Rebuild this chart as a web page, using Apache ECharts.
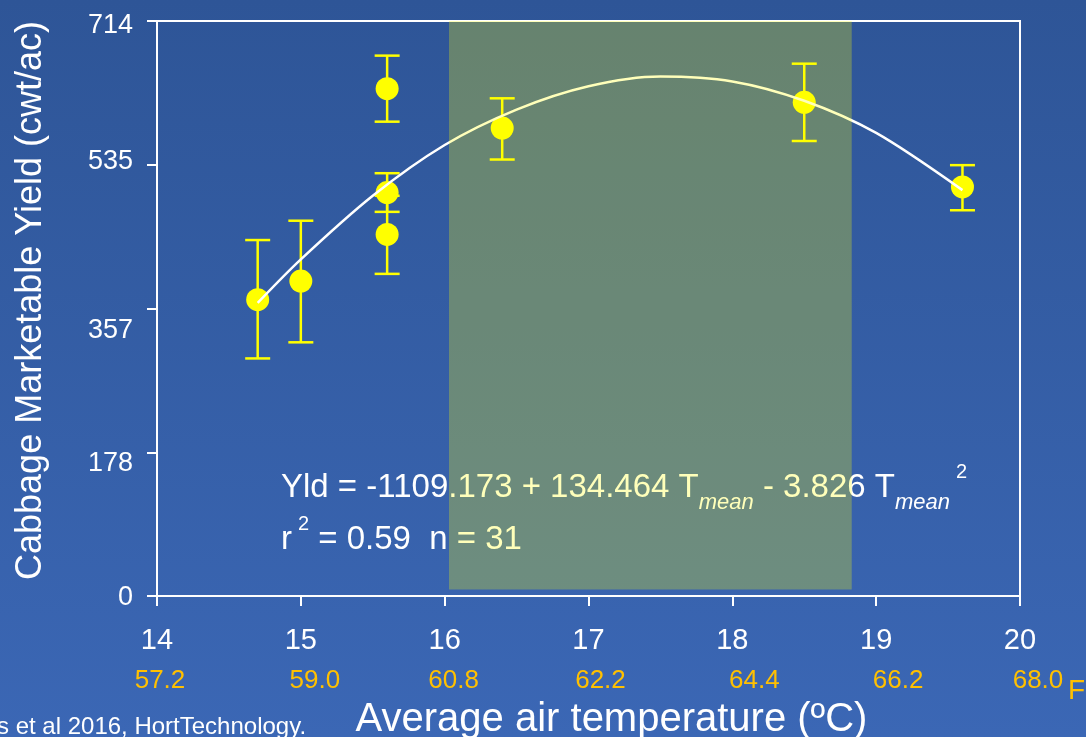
<!DOCTYPE html>
<html lang="en">
<head>
  <meta charset="UTF-8">
  <title>Cabbage yield vs temperature</title>
  <script src="https://cdn.jsdelivr.net/npm/echarts@6/dist/echarts.min.js"></script>
  <style>
    html, body { margin: 0; padding: 0; }
  </style>
</head>
<body>
<div id="main" style="width:1086px;height:737px"></div>
<script>
  // axis ticks
  var xTicks = [14, 15, 16, 17, 18, 19, 20];
  var fahrLabels = ['57.2', '59.0', '60.8', '62.2', '64.4', '66.2', '68.0'];
  var yTicks = [0, 178, 357, 535, 714];

  // observed means with error bars
  var temps = [14.7, 15.0, 15.6, 15.6, 15.6, 16.4, 18.5, 19.6];
  var yields = [368, 391, 630, 501, 449, 581, 613, 508];
  var errLow = [295, 315, 589, 477, 400, 542, 565, 479];
  var errHigh = [442, 466, 671, 525, 497, 618, 661, 535];

  // fitted curve
  var fitT = [14.7, 15.0, 15.5, 16.0, 16.5, 17.0, 17.5, 18.0, 18.5, 19.0, 19.6];
  var fitYield = [364, 418, 497, 560, 604, 633, 645, 639, 615, 575, 504];

  // optimum band
  var bandT = [16.03, 18.83];
  var bandY = [8, 714];

  var font = 'Liberation Sans, Arial, sans-serif';
  var chart = echarts.init(document.querySelector('#main'));

  var pts = temps.map(function (t, i) { return [t, yields[i]]; });
  var bars = temps.map(function (t, i) { return [t, errLow[i], errHigh[i]]; });
  var fit = fitT.map(function (t, i) { return [t, fitYield[i]]; });

  // the slide's labels sit a little off their ticks
  var yShift = [2, 11, 22, -3, 5];
  var fShift = [3, 14, 9, 12, 22, 22, 18];
  var yRich = {}, xRich = { c: { color: '#fff', fontSize: 29, lineHeight: 38, fontFamily: font } };
  yShift.forEach(function (d, i) {
    yRich['y' + i] = {
      color: '#fff', fontSize: 27, fontFamily: font,
      padding: d > 0 ? [2 * d, 0, 0, 0] : [0, 0, -2 * d, 0]
    };
  });
  fShift.forEach(function (d, i) {
    xRich['f' + i] = { color: '#FFC000', fontSize: 26, lineHeight: 42, fontFamily: font, padding: [0, 0, 0, 2 * d] };
  });

  chart.setOption({
    animation: false,
    backgroundColor: new echarts.graphic.LinearGradient(0, 0, 0, 1, [
      { offset: 0, color: '#2E5597' },
      { offset: 1, color: '#3B67B5' }
    ]),
    textStyle: { fontFamily: font },
    grid: {
      left: 157, right: 66, top: 21, bottom: 141,
      outerBoundsMode: 'none', containLabel: false,
      show: true, borderColor: '#fff', borderWidth: 2, backgroundColor: 'transparent'
    },
    xAxis: {
      type: 'value', min: 14, max: 20, interval: 1,
      name: 'Average air temperature (ºC)',
      nameLocation: 'middle', nameGap: 90,
      nameTextStyle: { color: '#fff', fontSize: 40, lineHeight: 42, padding: [0, 0, 0, 46], fontFamily: font },
      axisLine: { lineStyle: { color: '#fff', width: 2 } },
      axisTick: { show: true, length: 10, lineStyle: { color: '#fff', width: 2 } },
      splitLine: { show: false },
      axisLabel: {
        margin: 26,
        formatter: function (v) {
          var i = xTicks.indexOf(v);
          return '{c|' + v + '}\n{f' + i + '|' + fahrLabels[i] + '}';
        },
        rich: xRich
      }
    },
    yAxis: {
      type: 'value', min: 0, max: 714, interval: 178.5,
      name: 'Cabbage Marketable Yield (cwt/ac)',
      nameLocation: 'middle', nameGap: 108,
      nameTextStyle: { color: '#fff', fontSize: 36, fontFamily: font, padding: [0, 0, 0, 16] },
      axisLine: { show: true, lineStyle: { color: '#fff', width: 2 } },
      axisTick: { show: true, length: 10, lineStyle: { color: '#fff', width: 2 } },
      splitLine: { show: false },
      axisLabel: {
        margin: 24,
        formatter: function (v, i) { return '{y' + i + '|' + yTicks[i] + '}'; },
        rich: yRich
      }
    },
    graphic: [
      {
        type: 'text', left: 281, top: 462, z: 1,
        style: {
          text: '{n|Yld = -1109.173 + 134.464 T}{s|mean}{n| - 3.826 T}{s|mean}{p|2}\n' +
                '{n|r}{p|2}{n| = 0.59  n = 31}',
          fill: '#fff',
          rich: {
            n: { fontSize: 33, lineHeight: 52, fill: '#fff', fontFamily: font },
            s: { fontSize: 22, lineHeight: 26, verticalAlign: 'bottom', fontStyle: 'italic', fill: '#fff', fontFamily: font },
            p: { fontSize: 20, lineHeight: 34, verticalAlign: 'top', fill: '#fff', fontFamily: font, padding: [0, 0, 0, 6] }
          }
        }
      },
      {
        type: 'text', left: -3, top: 715, z: 1,
        style: { text: 's et al 2016, HortTechnology.', fill: '#fff', fontSize: 24, fontFamily: font }
      },
      {
        type: 'text', left: 1068, top: 677, z: 1,
        style: { text: 'F', fill: '#FFC000', fontSize: 28, fontFamily: font }
      }
    ],
    series: [
      {
        type: 'custom', name: 'err', z: 3,
        data: bars,
        encode: { x: 0, y: [1, 2] },
        renderItem: function (params, api) {
          var x = api.value(0);
          var lo = api.coord([x, api.value(1)]);
          var hi = api.coord([x, api.value(2)]);
          var w = 12.5;
          var st = { stroke: '#FFFF00', lineWidth: 2.5 };
          return {
            type: 'group',
            children: [
              { type: 'line', shape: { x1: lo[0], y1: lo[1], x2: hi[0], y2: hi[1] }, style: st },
              { type: 'line', shape: { x1: hi[0] - w, y1: hi[1], x2: hi[0] + w, y2: hi[1] }, style: st },
              { type: 'line', shape: { x1: lo[0] - w, y1: lo[1], x2: lo[0] + w, y2: lo[1] }, style: st }
            ]
          };
        }
      },
      {
        type: 'scatter', z: 4,
        data: pts,
        symbol: 'circle', symbolSize: 23,
        itemStyle: { color: '#FFFF00', opacity: 1 }
      },
      {
        type: 'line', z: 5,
        data: fit,
        smooth: 0.3, symbol: 'none',
        lineStyle: { color: '#fff', width: 2.5 }
      },
      {
        type: 'custom', name: 'band', z: 10, silent: true,
        data: [[bandT[0], bandY[0], bandT[1], bandY[1]]],
        encode: { x: [0, 2], y: [1, 3] },
        renderItem: function (params, api) {
          var p1 = api.coord([api.value(0), api.value(3)]);
          var p2 = api.coord([api.value(2), api.value(1)]);
          return {
            type: 'rect',
            shape: { x: p1[0], y: p1[1], width: p2[0] - p1[0], height: p2[1] - p1[1] },
            style: { fill: 'rgba(255,255,0,0.27)' }
          };
        }
      }
    ]
  });
</script>
</body>
</html>
